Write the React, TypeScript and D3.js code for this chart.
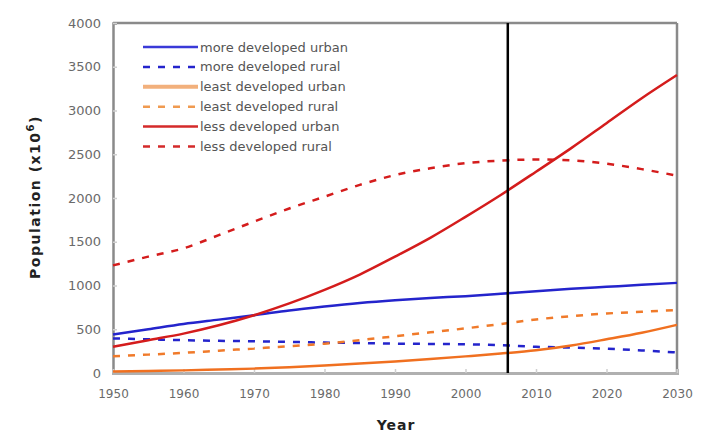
import React, { useRef, useEffect } from 'react';
import * as d3 from 'd3';

// years on the x axis
const years = [1950, 1955, 1960, 1965, 1970, 1975, 1980, 1985, 1990, 1995, 2000, 2005, 2010, 2015, 2020, 2025, 2030];

// population in millions
const moreDevUrban = [440, 500, 560, 610, 660, 715, 760, 800, 832, 858, 878, 905, 935, 962, 985, 1008, 1030];
const moreDevRural = [395, 385, 375, 368, 362, 355, 348, 342, 336, 332, 328, 318, 300, 290, 278, 258, 235];
const leastDevUrban = [18, 24, 30, 40, 50, 66, 86, 108, 132, 160, 190, 222, 260, 315, 385, 460, 550];
const leastDevRural = [192, 210, 230, 255, 280, 305, 335, 375, 420, 465, 510, 560, 612, 650, 680, 700, 720];
const lessDevUrban = [300, 375, 450, 545, 660, 795, 950, 1125, 1330, 1545, 1785, 2035, 2300, 2570, 2855, 3140, 3405];
const lessDevRural = [1230, 1330, 1425, 1575, 1730, 1880, 2015, 2150, 2262, 2340, 2398, 2428, 2440, 2430, 2392, 2330, 2255];

const seriesNames = [
  'more developed urban',
  'more developed rural',
  'least developed urban',
  'least developed rural',
  'less developed urban',
  'less developed rural',
];
const seriesValues = [moreDevUrban, moreDevRural, leastDevUrban, leastDevRural, lessDevUrban, lessDevRural];

const xTicks = [1950, 1960, 1970, 1980, 1990, 2000, 2010, 2020, 2030];
const yTicks = [0, 500, 1000, 1500, 2000, 2500, 3000, 3500, 4000];
const markerYear = 2006;

const FONT = '"DejaVu Sans", Verdana, sans-serif';

const Chart = () => {
  const svgRef = useRef<SVGSVGElement>(null);
  const width = 712, height = 432;
  const margin = { top: 23, right: 35, bottom: 59, left: 113 };

  useEffect(() => {
    const svg = d3.select(svgRef.current);
    svg.selectAll('*').remove();
    const w = width - margin.left - margin.right;
    const h = height - margin.top - margin.bottom;

    const x = d3.scaleLinear().domain([1950, 2030]).range([0, w]);
    const y = d3.scaleLinear().domain([0, 4000]).range([h, 0]);

    const g = svg.append('g').attr('transform', `translate(${margin.left},${margin.top})`);

    // frame
    g.append('line').attr('x1', 0).attr('x2', w).attr('y1', 0).attr('y2', 0)
      .attr('stroke', '#8a8a8a').attr('stroke-width', 2.5);
    g.append('line').attr('x1', w).attr('x2', w).attr('y1', 0).attr('y2', h)
      .attr('stroke', '#8a8a8a').attr('stroke-width', 2.5);

    // axes
    const yAxis = d3.axisLeft(y).tickValues(yTicks).tickFormat(d3.format('d')).tickSize(-4).tickPadding(12);
    const ya = g.append('g').call(yAxis);
    ya.select('.domain').attr('stroke', '#8a8a8a').attr('stroke-width', 2.5);
    ya.selectAll('.tick line').attr('stroke', '#cfcfcf').attr('stroke-width', 1.5);
    ya.selectAll('text').attr('fill', '#6a6a6a').attr('font-size', 13).attr('font-family', FONT);

    const xAxis = d3.axisBottom(x).tickValues(xTicks).tickFormat(d3.format('d')).tickSize(-4).tickPadding(16);
    const xa = g.append('g').attr('transform', `translate(0,${h})`).call(xAxis);
    xa.select('.domain').attr('stroke', '#b0b0b0').attr('stroke-width', 3);
    xa.selectAll('.tick line').attr('stroke', '#cfcfcf').attr('stroke-width', 1.5);
    xa.selectAll('text').attr('fill', '#6a6a6a').attr('font-size', 12).attr('font-family', FONT);

    // series
    const styles = [
      { color: '#2424cc', dash: null, legendColor: '#3a3ad8', legendWidth: 2.5 },
      { color: '#2424cc', dash: '7,8', legendColor: '#2424cc', legendWidth: 2.5 },
      { color: '#f07020', dash: null, legendColor: '#f2b07c', legendWidth: 4 },
      { color: '#f07a2a', dash: '7,8', legendColor: '#f09a50', legendWidth: 2.5 },
      { color: '#d41c1c', dash: null, legendColor: '#d42a2a', legendWidth: 2.5 },
      { color: '#d41c1c', dash: '7,8', legendColor: '#d42a2a', legendWidth: 2.5 },
    ];

    const line = d3.line<number>()
      .x((d, i) => x(years[i]))
      .y(d => y(d))
      .curve(d3.curveMonotoneX);

    seriesValues.forEach((vals, i) => {
      g.append('path')
        .attr('d', line(vals))
        .attr('fill', 'none')
        .attr('stroke', styles[i].color)
        .attr('stroke-width', 2.5)
        .attr('stroke-dasharray', styles[i].dash);
    });

    // marker line
    g.append('line')
      .attr('x1', x(markerYear)).attr('x2', x(markerYear))
      .attr('y1', 0).attr('y2', h)
      .attr('stroke', '#000').attr('stroke-width', 2.5);

    // legend
    const lg = g.append('g').attr('transform', 'translate(30,24)');
    seriesNames.forEach((name, i) => {
      const row = lg.append('g').attr('transform', `translate(0,${i * 19.9})`);
      row.append('line').attr('x1', 0).attr('x2', 55).attr('y1', 0).attr('y2', 0)
        .attr('stroke', styles[i].legendColor)
        .attr('stroke-width', styles[i].legendWidth)
        .attr('stroke-dasharray', styles[i].dash);
      row.append('text').attr('x', 57).attr('y', 4.5)
        .attr('font-size', 13)
        .attr('font-family', FONT)
        .attr('fill', '#555')
        .text(name);
    });

    // axis titles
    svg.append('text')
      .attr('x', 396)
      .attr('y', 430)
      .attr('text-anchor', 'middle')
      .attr('font-size', 14).attr('font-weight', 'bold')
      .attr('letter-spacing', 1)
      .attr('font-family', FONT)
      .attr('fill', '#222')
      .text('Year');

    const yl = svg.append('text')
      .attr('transform', 'translate(40,197) rotate(-90)')
      .attr('text-anchor', 'middle')
      .attr('font-size', 14).attr('font-weight', 'bold')
      .attr('letter-spacing', 1.5)
      .attr('font-family', FONT)
      .attr('fill', '#222');
    yl.append('tspan').text('Population (x10');
    yl.append('tspan').attr('font-size', 10).attr('dy', -6).text('6');
    yl.append('tspan').attr('dy', 6).text(')');
    // eslint-disable-next-line
  }, []);

  return (
    <svg ref={svgRef} width={width} height={height}
      style={{ position: 'absolute', left: 0, top: 0, background: '#fff' }} />
  );
};

export default function App() {
  return <Chart />;
}
